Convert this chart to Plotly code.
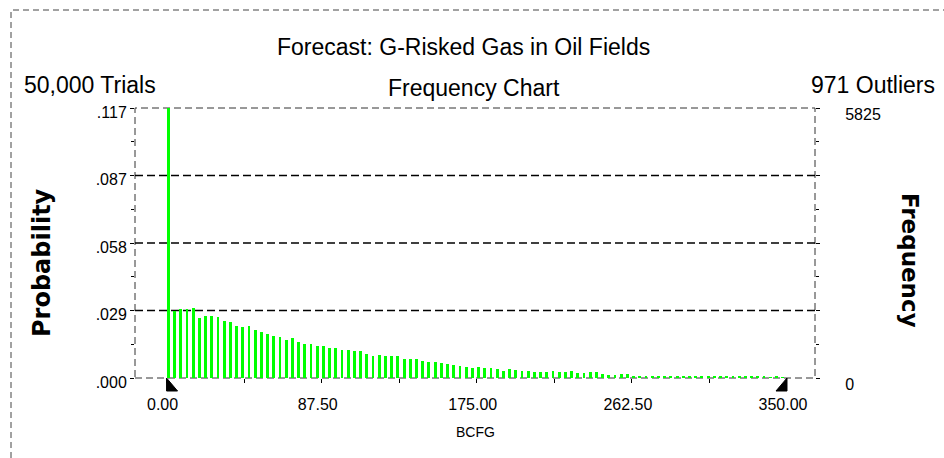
import plotly.graph_objects as go

# ---------------- data ----------------
trials = 50000
outliers = 971
bin_width = 3.5
n_bins = 100
# probability per bin
probability = [
    0.1165, 0.0289, 0.0298, 0.0298, 0.0301, 0.0258, 0.0268, 0.0267, 0.0262, 0.0244,
    0.0243, 0.0226, 0.0220, 0.0223, 0.0207, 0.0198, 0.0189, 0.0182, 0.0177, 0.0164,
    0.0173, 0.0155, 0.0147, 0.0147, 0.0138, 0.0140, 0.0130, 0.0128, 0.0121, 0.0122,
    0.0117, 0.0116, 0.0103, 0.0096, 0.0099, 0.0096, 0.0093, 0.0093, 0.0081, 0.0081,
    0.0081, 0.0074, 0.0071, 0.0071, 0.0063, 0.0060, 0.0056, 0.0051, 0.0049, 0.0044,
    0.0049, 0.0042, 0.0044, 0.0037, 0.0032, 0.0037, 0.0034, 0.0032, 0.0029, 0.0026,
    0.0026, 0.0026, 0.0029, 0.0026, 0.0026, 0.0029, 0.0022, 0.0022, 0.0025, 0.0025,
    0.0019, 0.0013, 0.0015, 0.0018, 0.0018, 0.0010, 0.0008, 0.0009, 0.0008, 0.0008,
    0.0009, 0.0008, 0.0007, 0.0008, 0.0007, 0.0007, 0.0008, 0.0006, 0.0007, 0.0006,
    0.0006, 0.0007, 0.0006, 0.0005, 0.0006, 0.0005, 0.0005, 0.0004, 0.0005, 0.0004,
]
bin_start = [i * bin_width for i in range(n_bins)]
bar_x = [b + 1.0 for b in bin_start]

max_freq = 5825
prob_max = max_freq / trials
prob_tickvals = [prob_max * i / 4 for i in range(5)]
prob_ticktext = [".000", ".029", ".058", ".087", ".117"]
freq_tickvals = [max_freq * i / 4 for i in range(5)]
freq_ticktext = ["0", "", "", "", "5825"]
x_tickvals = [0, 87.5, 175, 262.5, 350]
x_ticktext = ["0.00", "87.50", "175.00", "262.50", "350.00"]
x_minor = [43.75, 131.25, 218.75, 306.25]
x_range = [-17.8, 365.8]
certainty = [0, 350]

title = "Forecast: G-Risked Gas in Oil Fields"
left_info = "50,000 Trials"
center_info = "Frequency Chart"
right_info = "971 Outliers"
x_title = "BCFG"

FONT = "Liberation Sans, Arial, sans-serif"
BOLD_FONT = "DejaVu Sans, sans-serif"

fig = go.Figure()
fig.add_trace(go.Bar(
    x=bar_x, y=probability, width=1.6,
    marker=dict(color="#00ff00", line=dict(width=0)),
    hoverinfo="x+y", showlegend=False,
))
fig.add_trace(go.Scatter(
    x=[bar_x[0]], y=[0], yaxis="y2", mode="markers",
    marker=dict(opacity=0), hoverinfo="skip", showlegend=False,
))

W, H = 944, 458
L, R, T, B = 135, 129, 108, 80
pw, ph = W - L - R, H - T - B


def px_x(px):
    return (px - L) / pw


def px_y(py):
    return (H - B - py) / ph


def data_xp(v):
    return (v - x_range[0]) / (x_range[1] - x_range[0])


shapes = []
# outer dashed frame
shapes.append(dict(type="rect", xref="paper", yref="paper",
                   x0=px_x(11), x1=px_x(960), y0=px_y(470), y1=px_y(10),
                   line=dict(color="#444", width=1, dash="6px,4px"), layer="below"))
# plot border
shapes.append(dict(type="rect", xref="paper", yref="paper",
                   x0=0, x1=1, y0=0, y1=1,
                   line=dict(color="#333", width=1, dash="7px,4px"), layer="below"))
# interior gridlines
for v in prob_tickvals[1:-1]:
    shapes.append(dict(type="line", xref="paper", yref="paper",
                       x0=0, x1=1, y0=v / prob_max, y1=v / prob_max,
                       line=dict(color="black", width=1.5, dash="8px,4px"), layer="below"))
# certainty grabbers
gw = 11 / pw
gh = 13 / ph
xl = data_xp(certainty[0])
xr = data_xp(certainty[1])
shapes.append(dict(type="path", xref="paper", yref="paper",
                   path=f"M {xl},0 L {xl},{-gh} L {xl + gw},{-gh} Z",
                   fillcolor="black", line=dict(color="black", width=1)))
shapes.append(dict(type="path", xref="paper", yref="paper",
                   path=f"M {xr},0 L {xr},{-gh} L {xr - gw},{-gh} Z",
                   fillcolor="black", line=dict(color="black", width=1)))

annotations = [
    dict(text=title, x=px_x(463), y=px_y(47), font=dict(size=23)),
    dict(text=left_info, x=px_x(22), y=px_y(85), xanchor="left", font=dict(size=23)),
    dict(text=center_info, x=px_x(474), y=px_y(88), font=dict(size=23)),
    dict(text=right_info, x=px_x(937), y=px_y(85), xanchor="right", font=dict(size=23)),
    dict(text="<b>Probability</b>", x=px_x(42), y=px_y(262), textangle=-90,
         font=dict(size=24, family=BOLD_FONT)),
    dict(text="<b>Frequency</b>", x=px_x(910), y=px_y(260), textangle=90,
         font=dict(size=23, family=BOLD_FONT)),
    dict(text=x_title, x=px_x(475), y=px_y(432), font=dict(size=14)),
]
for a in annotations:
    a.update(xref="paper", yref="paper", showarrow=False)
    a.setdefault("xanchor", "center")
    a["yanchor"] = "middle"
    a["font"].setdefault("family", FONT)
    a["font"].setdefault("color", "black")

fig.update_layout(
    width=W, height=H,
    margin=dict(l=L, r=R, t=T, b=B, pad=0),
    paper_bgcolor="white", plot_bgcolor="white",
    font=dict(family=FONT, color="black", size=16),
    bargap=0,
    shapes=shapes, annotations=annotations,
    xaxis=dict(range=x_range, tickvals=x_tickvals, ticktext=x_ticktext,
               ticks="outside", ticklen=4, tickcolor="black", showgrid=False,
               zeroline=False, showline=False, ticklabelstandoff=8,
               ticklabelshift=-4, tickfont=dict(size=16),
               minor=dict(tickvals=x_minor, ticks="outside", ticklen=4, tickcolor="black")),
    yaxis=dict(range=[0, prob_max], tickvals=prob_tickvals, ticktext=prob_ticktext,
               ticks="outside", ticklen=4, tickcolor="black", showgrid=False,
               zeroline=False, showline=False, ticklabelstandoff=0,
               ticklabelshift=4, tickfont=dict(size=16),
               minor=dict(tickvals=[prob_max * (2 * i + 1) / 8 for i in range(4)],
                          ticks="outside", ticklen=3, tickcolor="black")),
    yaxis2=dict(range=[0, max_freq], overlaying="y", side="right",
                tickvals=freq_tickvals, ticktext=freq_ticktext,
                ticks="outside", ticklen=4, tickcolor="black", showgrid=False,
                zeroline=False, showline=False, ticklabelstandoff=22,
                ticklabelshift=6, tickfont=dict(size=16),
                minor=dict(tickvals=[max_freq * (2 * i + 1) / 8 for i in range(4)],
                           ticks="outside", ticklen=3, tickcolor="black")),
)

fig.write_html("out.html")
